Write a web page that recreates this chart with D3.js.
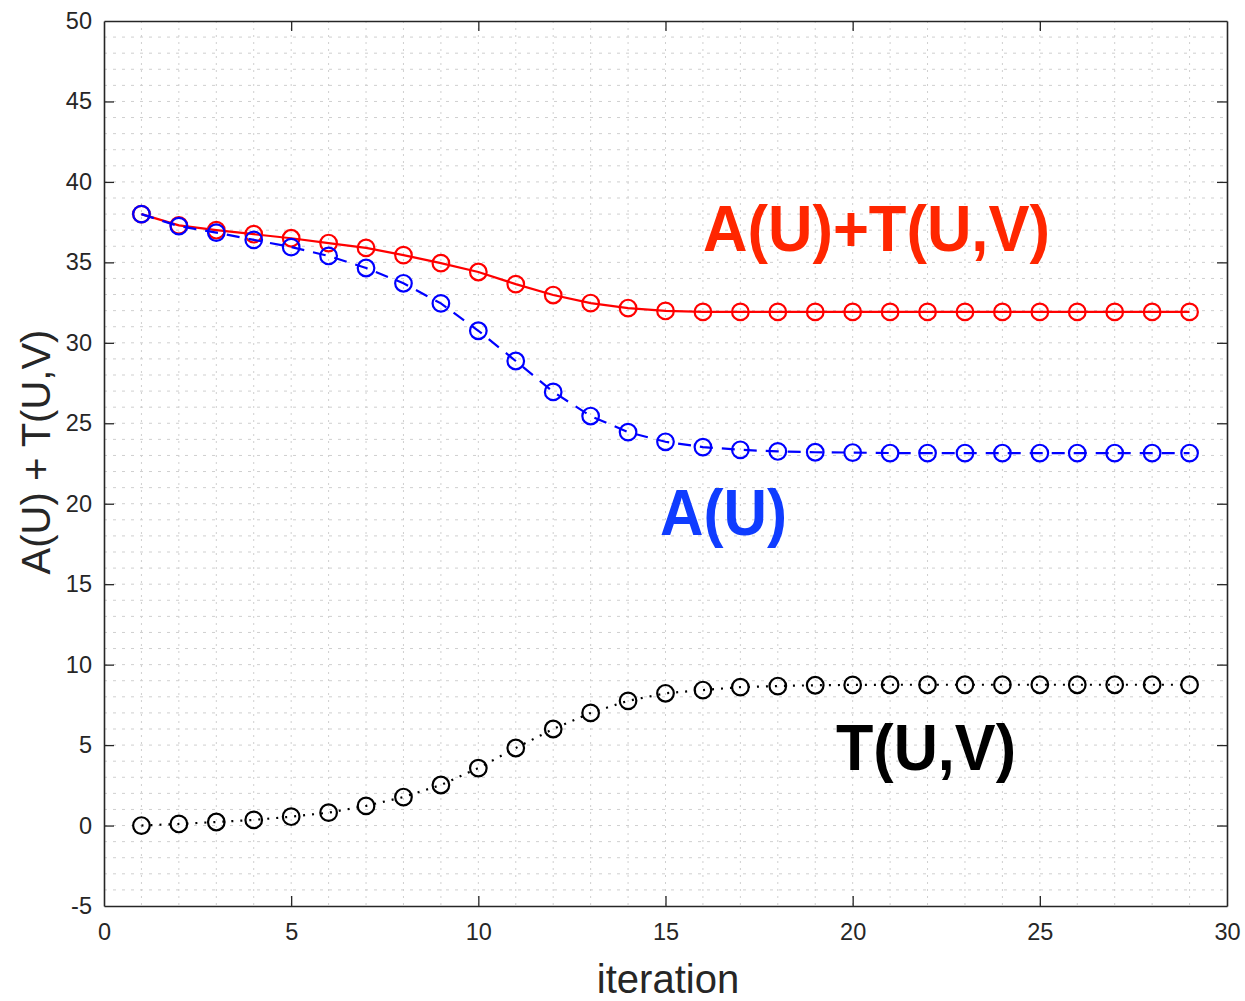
<!DOCTYPE html>
<html><head><meta charset="utf-8">
<script src="https://cdn.jsdelivr.net/npm/d3@7"></script>
<style>body{margin:0;background:#fff;}svg{display:block;}</style>
</head><body>
<svg id="chart" width="1245" height="1001"></svg>
<script>
const iterations = d3.range(1, 30);
const sumValues = [38.0,37.3,37.0,36.75,36.5,36.2,35.9,35.45,34.95,34.4,33.65,32.97,32.47,32.16,31.98,31.92,31.92,31.92,31.92,31.92,31.92,31.92,31.92,31.92,31.92,31.92,31.92,31.92,31.92];
const aValues = [38.0,37.25,36.85,36.4,35.95,35.4,34.65,33.7,32.45,30.75,28.87,26.95,25.45,24.45,23.85,23.52,23.35,23.25,23.2,23.18,23.15,23.15,23.15,23.15,23.15,23.15,23.15,23.15,23.15];
const tValues = [0.0,0.1,0.22,0.35,0.55,0.8,1.22,1.77,2.52,3.57,4.82,6.0,7.0,7.75,8.22,8.42,8.6,8.67,8.72,8.74,8.75,8.75,8.75,8.75,8.75,8.75,8.75,8.75,8.75];
const xTicks = [0,5,10,15,20,25,30];
const yTicks = [-5,0,5,10,15,20,25,30,35,40,45,50];
const seriesNames = ["A(U)+T(U,V)", "A(U)", "T(U,V)"];

const svg = d3.select("#chart");
const L = 104, R = 1227, T = 21, B = 906;
const x = d3.scaleLinear().domain([0, 30]).range([L, R]);
const y = d3.scaleLinear().domain([-5, 50]).range([B, T]);
const axisColor = "#262626";

// grid (minor every 1 unit)
const grid = svg.append("g");
grid.selectAll("line.vx").data(d3.range(1, 30)).join("line")
  .attr("x1", d => x(d)).attr("x2", d => x(d)).attr("y1", T).attr("y2", B)
  .attr("stroke", "#cfcfcf").attr("stroke-width", 1).attr("stroke-dasharray", "2,5");
grid.selectAll("line.hy").data(d3.range(-4, 50)).join("line")
  .attr("y1", d => y(d)).attr("y2", d => y(d)).attr("x1", L).attr("x2", R)
  .attr("stroke", "#cfcfcf").attr("stroke-width", 1).attr("stroke-dasharray", "3,6");

// axes
const fontTick = "23.5px 'Liberation Sans', Arial, sans-serif";
const fmt = d => String(d);
const xAxis = d3.axisBottom(x).tickValues(xTicks).tickFormat(fmt).tickSizeInner(-10).tickSizeOuter(0).tickPadding(17);
const gx = svg.append("g").attr("transform", `translate(0,${B})`).call(xAxis);
const xAxisTop = d3.axisTop(x).tickValues(xTicks).tickSizeInner(-10).tickSizeOuter(0).tickFormat("");
const gxt = svg.append("g").attr("transform", `translate(0,${T})`).call(xAxisTop);
const yAxis = d3.axisLeft(y).tickValues(yTicks).tickFormat(fmt).tickSizeInner(-10).tickSizeOuter(0).tickPadding(12);
const gy = svg.append("g").attr("transform", `translate(${L},0)`).call(yAxis);
const yAxisR = d3.axisRight(y).tickValues(yTicks).tickSizeInner(-10).tickSizeOuter(0).tickFormat("");
const gyr = svg.append("g").attr("transform", `translate(${R},0)`).call(yAxisR);
[gx, gxt, gy, gyr].forEach(g => {
  g.select(".domain").attr("stroke", axisColor).attr("stroke-width", 1.6);
  g.selectAll(".tick line").attr("stroke", axisColor).attr("stroke-width", 1.3);
  g.selectAll(".tick text").attr("fill", axisColor).style("font", fontTick);
});
gx.selectAll(".tick line").filter(d => d === 0 || d === 30).remove();
gxt.selectAll(".tick line").filter(d => d === 0 || d === 30).remove();
gy.selectAll(".tick line").filter(d => d === -5 || d === 50).remove();
gyr.selectAll(".tick line").filter(d => d === -5 || d === 50).remove();

// axis titles
svg.append("text").attr("x", 668).attr("y", 993).attr("text-anchor", "middle")
  .attr("fill", axisColor).style("font", "40px 'Liberation Sans', Arial, sans-serif").text("iteration");
svg.append("text").attr("transform", `translate(50,452) rotate(-90)`).attr("text-anchor", "middle")
  .attr("fill", axisColor).style("font", "40px 'Liberation Sans', Arial, sans-serif").text("A(U) + T(U,V)");

// series
const series = [
  {name: seriesNames[0], values: sumValues, color: "#ff0000", dash: null},
  {name: seriesNames[1], values: aValues, color: "#0000ff", dash: "13,9"},
  {name: seriesNames[2], values: tValues, color: "#000000", dash: "2,7"}
];
const line = d3.line().x((d, i) => x(iterations[i])).y(d => y(d)).curve(d3.curveLinear);
const order = [2, 0, 1];
order.forEach(k => {
  const s = series[k];
  const g = svg.append("g");
  g.append("path").attr("d", line(s.values)).attr("fill", "none").attr("stroke", s.color)
    .attr("stroke-width", 2.2).attr("stroke-dasharray", s.dash);
  g.selectAll("circle").data(s.values).join("circle")
    .attr("cx", (d, i) => x(iterations[i])).attr("cy", d => y(d)).attr("r", 8.3)
    .attr("fill", "none").attr("stroke", s.color).attr("stroke-width", 2.2);
});

// annotations
const ann = [
  {text: seriesNames[0], x0: 703, x1: 1050, base: 251, color: "#ff2600"},
  {text: seriesNames[1], x0: 660, x1: 787, base: 535, color: "#0f3cff"},
  {text: seriesNames[2], x0: 836, x1: 1016, base: 770, color: "#000000"}
];
ann.forEach(a => {
  svg.append("text").attr("x", a.x0).attr("y", a.base)
    .attr("textLength", a.x1 - a.x0).attr("lengthAdjust", "spacingAndGlyphs")
    .attr("fill", a.color).style("font", "bold 65px 'Liberation Sans', Arial, sans-serif").text(a.text);
});
</script>
</body></html>
